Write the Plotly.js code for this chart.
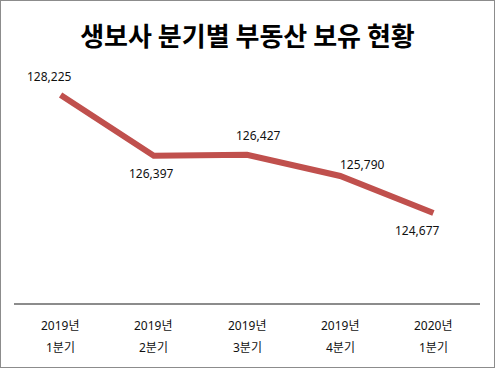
<!DOCTYPE html>
<html><head><meta charset="utf-8">
<script src="https://cdn.plot.ly/plotly-3.0.1.min.js"></script>
<style>html,body{margin:0;padding:0;background:#fff}#wrap{width:493px;height:366px;border:1px solid #8c8c8c}#chart{width:493px;height:366px}</style>
</head><body><div id="wrap"><div id="chart"></div></div>
<script>
const years = ["2019년","2019년","2019년","2019년","2020년"];
const quarters = ["1분기","2분기","3분기","4분기","1분기"];
const values = [128225, 126397, 126427, 125790, 124677];
const categories = years.map((y,i)=>y+" "+quarters[i]);

const labelDx = [-11, -2, 11, 22, -16];
const labelDy = [18, -18, 19, 11, -17];
const font = "Noto Sans, Noto Sans CJK KR, sans-serif";

const annotations = [];
values.forEach((v,i)=>{
  annotations.push({x: categories[i], y: v, xref:'x', yref:'y', text: v.toLocaleString('en-US'),
    showarrow:false, xshift:labelDx[i], yshift:labelDy[i], font:{size:12, color:'#111', family:font}});
  annotations.push({x: categories[i], y: 0, xref:'x', yref:'paper', yanchor:'middle', text: years[i],
    showarrow:false, yshift:-22, font:{size:12, color:'#111', family:font}});
  annotations.push({x: categories[i], y: 0, xref:'x', yref:'paper', yanchor:'middle', text: quarters[i],
    showarrow:false, yshift:-44, font:{size:12, color:'#111', family:font}});
});

Plotly.newPlot('chart', [{
  type:'scatter', mode:'lines', x: categories, y: values,
  line:{color:'#c0504d', width:6}, hoverinfo:'skip'
}], {
  width:493, height:366,
  margin:{l:13, r:14, t:59, b:64},
  paper_bgcolor:'#fff', plot_bgcolor:'#fff',
  title:{text:'<b>생보사 분기별 부동산 보유 현황</b>', x:0.5, xanchor:'center', y:0.9016, yanchor:'middle', yref:'container',
    font:{family:'Noto Sans CJK KR, sans-serif', size:26, color:'#000'}},
  xaxis:{type:'category', range:[-0.5,4.5], showline:true, linecolor:'#8c8c8c', linewidth:1.5, showgrid:false,
    zeroline:false, showticklabels:false, ticks:''},
  yaxis:{range:[121971,129277], visible:false, showgrid:false, zeroline:false},
  annotations: annotations,
  showlegend:false
}, {staticPlot:true});
</script></body></html>
